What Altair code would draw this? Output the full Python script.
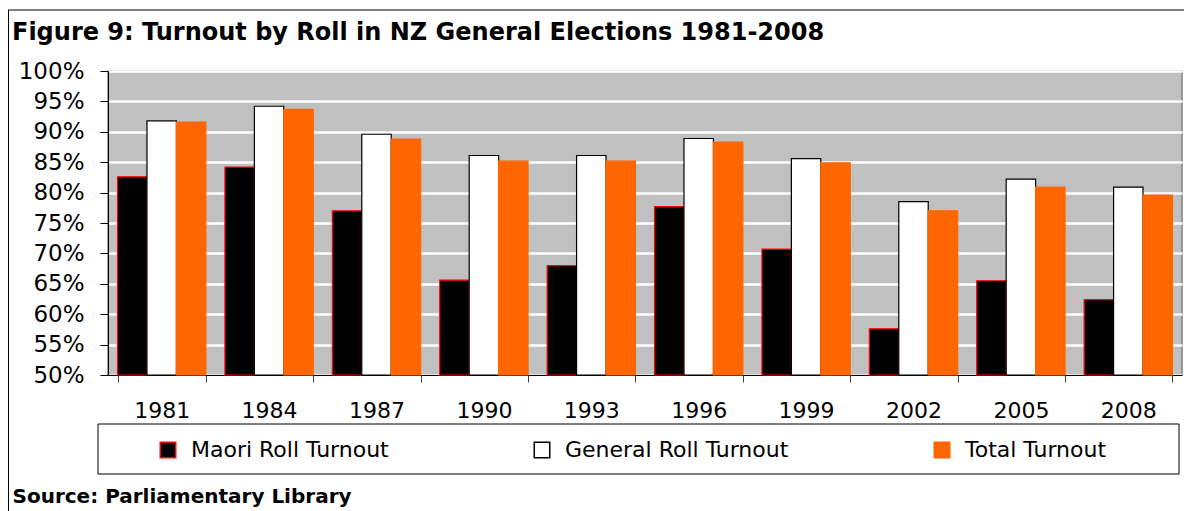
import altair as alt
import pandas as pd

years = ["1981", "1984", "1987", "1990", "1993", "1996", "1999", "2002", "2005", "2008"]
maori = [82.6, 84.2, 77.0, 65.6, 68.0, 77.7, 70.7, 57.6, 65.5, 62.4]
general = [91.8, 94.2, 89.6, 86.1, 86.1, 88.9, 85.6, 78.5, 82.2, 80.9]
total = [91.6, 93.7, 88.8, 85.2, 85.2, 88.3, 84.9, 77.0, 80.9, 79.6]
series = ["Maori Roll Turnout", "General Roll Turnout", "Total Turnout"]
y_ticks = [0.50, 0.55, 0.60, 0.65, 0.70, 0.75, 0.80, 0.85, 0.90, 0.95, 1.00]
title_text = "Figure 9: Turnout by Roll in NZ General Elections 1981-2008"

rows = []
for i, yr in enumerate(years):
    for s, vals in zip(series, [maori, general, total]):
        rows.append({"year": yr, "series": s, "value": vals[i] / 100.0})
df = pd.DataFrame(rows)

FONT = "DejaVu Sans"
W, H = 1074, 304

bars = alt.Chart(df).mark_bar(strokeWidth=1.2).encode(
    x=alt.X("year:N", sort=years,
            scale=alt.Scale(paddingInner=0.178, paddingOuter=0.089),
            axis=alt.Axis(title="Source: Parliamentary Library", labelAngle=0,
                          labelFont=FONT, labelFontSize=22, labelColor="black",
                          labelPadding=18, tickSize=7, tickBand="extent",
                          tickColor="#404040", domainColor="black", domainWidth=1,
                          titleX=-96, titleY=121, titleAnchor="start", titleAlign="left",
                          titleBaseline="middle", titleFont=FONT, titleFontSize=20,
                          titleFontWeight="bold", titleColor="black")),
    xOffset=alt.XOffset("series:N", sort=series, scale=alt.Scale(paddingInner=0, paddingOuter=0)),
    y=alt.Y("value:Q", scale=alt.Scale(domain=[0.5, 1.0], zero=False, nice=False),
            axis=alt.Axis(title=None, values=y_ticks, format=".0%", labelFont=FONT,
                          labelFontSize=23, labelColor="black", labelPadding=16,
                          tickSize=8, tickColor="black", domainColor="black",
                          grid=True, gridColor="white", gridWidth=2.5)),
    y2=alt.datum(0.5),
    fill=alt.Fill("series:N", sort=series,
                  scale=alt.Scale(domain=series, range=["black", "white", "#FF6600"]),
                  legend=alt.Legend(title=None, orient="none", legendX=49, legendY=368,
                                    direction="horizontal", columns=3, padding=0,
                                    labelFont=FONT, labelFontSize=22, labelColor="black",
                                    labelLimit=500,
                                    symbolType="square", symbolSize=240,
                                    symbolStrokeWidth=1.5, labelOffset=12,
                                    columnPadding=142)),
    stroke=alt.Stroke("series:N", sort=series,
                      scale=alt.Scale(domain=series, range=["#FF0000", "black", "#FF6600"]),
                      legend=None),
)

one = pd.DataFrame({"k": [0]})
title_df = pd.DataFrame({"t": [title_text]})
title_mark = alt.Chart(title_df).mark_text(
    align="left", baseline="middle", font=FONT, fontSize=24, fontWeight="bold",
    color="black").encode(text="t:N", x=alt.value(-96), y=alt.value(-38))
legend_box = alt.Chart(one).mark_rect(fillOpacity=0, stroke="black", strokeWidth=1).encode(
    x=alt.value(-10), x2=alt.value(1071), y=alt.value(353), y2=alt.value(403))
frame_top = alt.Chart(one).mark_rule(color="black", strokeWidth=1).encode(
    x=alt.value(-100), x2=alt.value(1077), y=alt.value(-61))
frame_left = alt.Chart(one).mark_rule(color="black", strokeWidth=1).encode(
    x=alt.value(-99.5), y=alt.value(-61), y2=alt.value(440))

chart = alt.layer(bars, title_mark, legend_box, frame_top, frame_left).properties(
    width=W, height=H,
    autosize=alt.AutoSizeParams(type="none"),
    padding={"left": 100, "top": 63, "right": 2, "bottom": 140},
).configure_view(fill="#C0C0C0", stroke="#808080", strokeWidth=1.5)

chart.save("out.html", embed_options={"renderer": "svg", "actions": False})
